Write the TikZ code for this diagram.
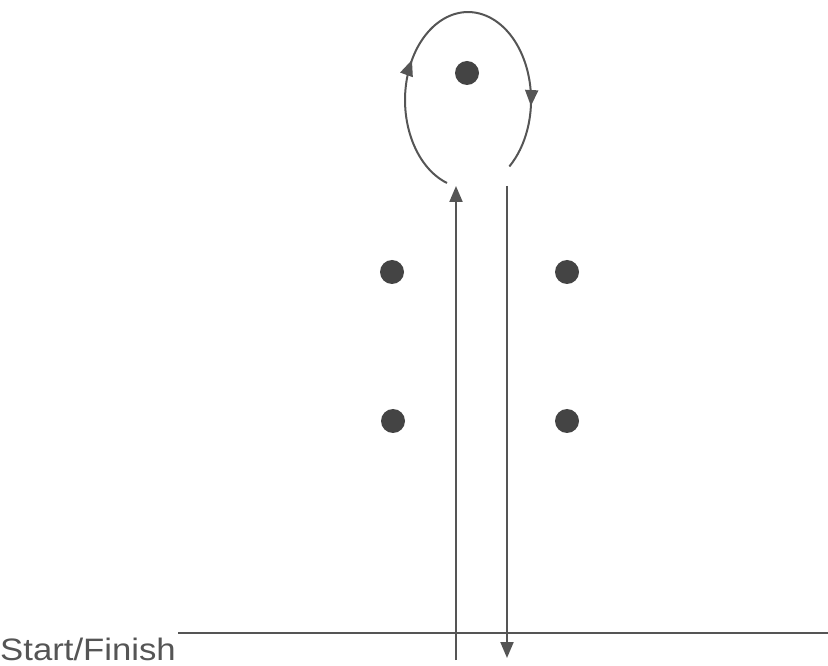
\documentclass[tikz,border=0pt]{standalone}
\usepackage{fontspec}
\setmainfont{Liberation Sans}
\usetikzlibrary{arrows.meta,decorations.markings}
\definecolor{ink}{HTML}{555555}
\definecolor{dotgray}{HTML}{444444}

\begin{document}
\begin{tikzpicture}[x=1pt,y=1pt,
  pin/.style={circle,fill=dotgray,minimum size=24pt,inner sep=0pt},
  lane/.style={draw=ink,line width=2pt},
  run/.style={lane,-{Triangle[length=16pt,width=13pt]}},
  turn/.style={lane,decoration={markings,
    mark=at position .34 with {\arrow{Triangle[length=16pt,width=13pt]}},
    mark=at position .84 with {\arrow{Triangle[length=16pt,width=13pt]}}},postaction=decorate}]
\useasboundingbox(0,0)rectangle(828,665);
\node[pin](far)at(467,592){};
\node[pin](ul)at(392,393){};\node[pin](ur)at(567,393){};
\node[pin](ll)at(393,244){};\node[pin](lr)at(567,244){};
\coordinate(linel)at(178,32);\coordinate(liner)at(828,32);
\coordinate(upfoot)at(456,5);\coordinate(uptip)at(456,479);
\coordinate(downtop)at(507,479);\coordinate(downtip)at(507,7);
\coordinate(loopin)at(447,482);
\draw[lane](linel)--(liner);
\node[anchor=base west,inner sep=0pt,text depth=0pt,text=ink,font=\fontsize{31}{31}\selectfont,xscale=1.12](start)at(0,5){Start/Finish};
\draw[run](upfoot)--(uptip);\draw[run](downtop)--(downtip);
\draw[turn](loopin)arc[start angle=250.5,end angle=-49,x radius=63,y radius=88];
\end{tikzpicture}
\end{document}
